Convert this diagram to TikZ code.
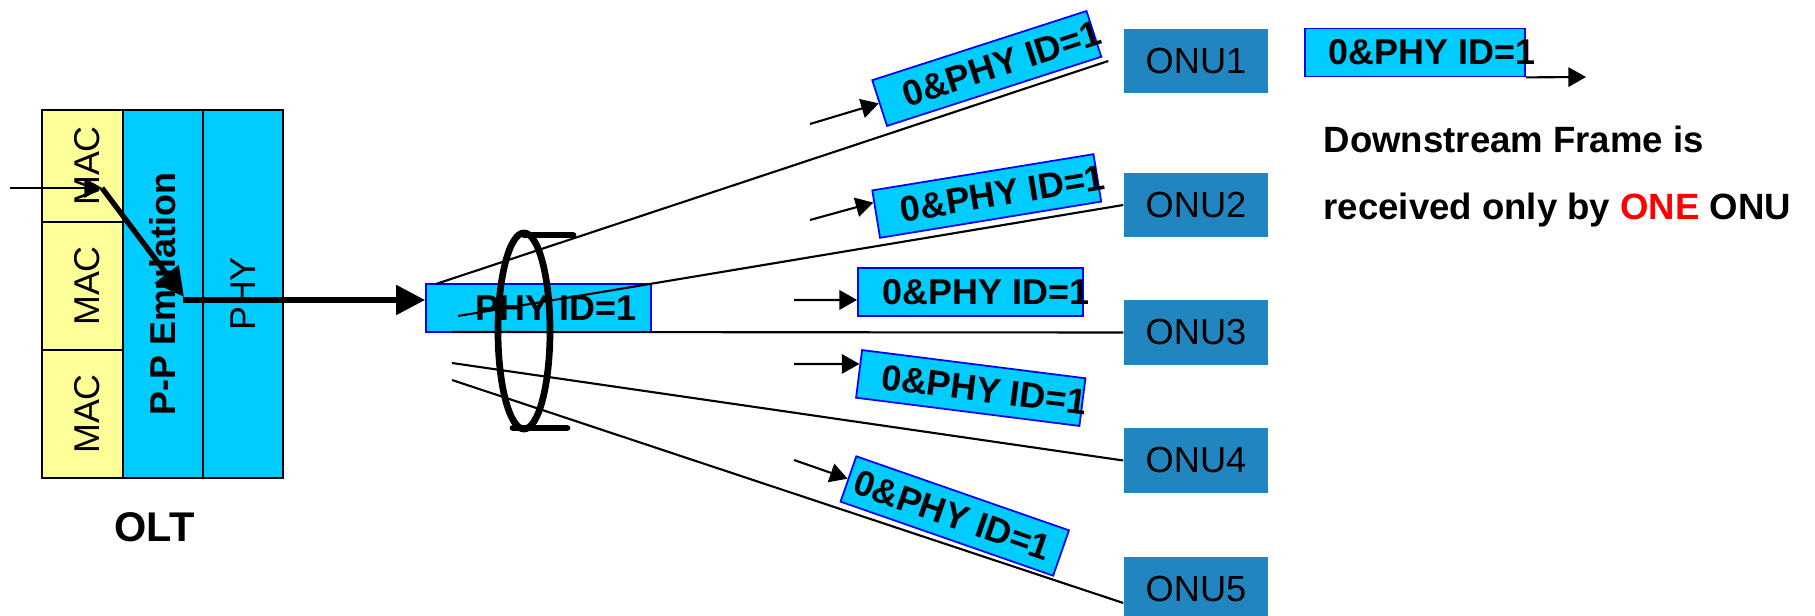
\documentclass[tikz,border=0pt]{standalone}
\usepackage{fontspec}
\setmainfont{Liberation Sans}
\usetikzlibrary{arrows.meta,calc}
\definecolor{macyellow}{HTML}{FFFF99}
\definecolor{phycyan}{HTML}{00CCFF}
\definecolor{onublue}{HTML}{2185C0}
\tikzset{
    cell/.style =   {rectangle,
                    draw=black,
                    line width=0.6pt,
                    inner sep=0pt,
                    rotate=90,
                    font=\fontsize{10.2}{12}\selectfont},
    mac/.style =    {cell,
                    fill=macyellow,
                    text height=9.8pt,
                    text depth=0pt,
                    minimum height=0.81cm},
    tag/.style =    {rectangle,
                    fill=phycyan,
                    draw=blue,
                    line width=0.5pt,
                    inner sep=0pt,
                    minimum height=0.48cm,
                    font=\fontsize{10.2}{12}\selectfont\bfseries},
    onu/.style =    {rectangle,
                    fill=onublue,
                    text=black,
                    inner sep=0pt,
                    minimum width=1.44cm,
                    minimum height=0.64cm,
                    font=\fontsize{10.3}{12}\selectfont},
    note/.style =   {anchor=base west,
                    inner sep=0pt,
                    font=\fontsize{10.4}{12}\selectfont\bfseries},
    -,
    link/.style =   {draw=black, line width=0.6pt},
    ptr/.style =    {-{Triangle[length=5pt,width=5.5pt]}, line width=0.6pt},
    fat/.style =    {-{Triangle[length=8.2pt,width=8.2pt]}, line width=1.5pt},
    lens/.style =   {line width=1.9pt, line cap=round}}
% box of given width, text pushed in from the left
\newcommand{\tagtext}[3]{\makebox[#1][l]{\hspace*{#2}#3}}

\begin{document}
\begin{tikzpicture}[x=0.01cm, y=-0.01cm]
    \useasboundingbox (0,0) rectangle (1815,616);
    % OLT stack
    \node[mac, minimum width=1.12cm] (mac1) at (82.5,166) {MAC};
    \node[mac, minimum width=1.28cm] (mac2) at (82.5,286) {MAC};
    \node[mac, minimum width=1.28cm] (mac3) at (82.5,414) {MAC};
    \node[cell, fill=phycyan, minimum width=3.68cm, minimum height=0.80cm,
          font=\fontsize{10.2}{12}\selectfont\bfseries] (ppe) at (163,294) {P-P Emulation};
    \node[cell, fill=phycyan, minimum width=3.68cm, minimum height=0.80cm] (phy) at (243,294) {PHY};
    \node[font=\fontsize{11.8}{14}\selectfont\bfseries] (olt) at (154.5,527) {OLT};

    % frame leaving the OLT
    \node[tag] (frame) at (538.5,308) {\tagtext{2.25cm}{0.5cm}{PHY ID=1}};
    \coordinate (feed)  at (10,188);
    \coordinate (macin) at (102,188);
    \coordinate (ppein) at (184,297);
    \coordinate (fwd)   at (183,300);
    \draw[ptr] (feed) -- (macin);
    \draw[fat] (macin) -- (ppein);
    \draw[fat] (fwd) -- (fwd -| frame.west);

    % ONUs and fibres
    \node[onu] (onu1) at (1196,61)    {ONU1};
    \node[onu] (onu2) at (1196,205)   {ONU2};
    \node[onu] (onu3) at (1196,332.5) {ONU3};
    \node[onu] (onu4) at (1196,460.5) {ONU4};
    \node[onu] (onu5) at (1196,589)   {ONU5};
    \coordinate (p1) at (436,284);
    \coordinate (p2) at (458,316);
    \coordinate (p3) at (452,332);
    \coordinate (p4) at (452,363);
    \coordinate (p5) at (452,380);
    \path [link]    (p1) edge ([xshift=-0.15cm]onu1.west)
                    (p2) edge (onu2.west)
                    (p3) edge (onu3.west)
                    (p4) edge (onu4.west)
                    (p5) edge ([yshift=-0.14cm]onu5.west);

    % splitter
    \draw[lens] (524,331) ellipse [x radius=0.26cm, y radius=0.98cm];
    \draw[lens] (524,235) -- (573,235);
    \draw[lens] (513,428) -- (567,428);

    % copies of the frame on each fibre
    \node[tag, rotate=17.9]  (t1) at (986.75,68.5) {\tagtext{2.25cm}{0.25cm}{0\&PHY ID=1}};
    \node[tag, rotate=9.3]   (t2) at (986.75,196)  {\tagtext{2.24cm}{0.25cm}{0\&PHY ID=1}};
    \node[tag]               (t3) at (970.5,292)   {\tagtext{2.25cm}{0.25cm}{0\&PHY ID=1}};
    \node[tag, rotate=-7.2]  (t4) at (970.75,388)  {\tagtext{2.25cm}{0.23cm}{0\&PHY ID=1}};
    \node[tag, rotate=-19.2] (t5) at (954.75,516)  {\tagtext{2.25cm}{0.07cm}{0\&PHY ID=1}};
    \coordinate (s1) at (810,124);
    \coordinate (s2) at (810,220);
    \coordinate (s3) at (794,300);
    \coordinate (s4) at (794,364);
    \coordinate (s5) at (794,460);
    \draw[ptr] (s1) -- (t1.west);
    \draw[ptr] (s2) -- (t2.174);
    \draw[ptr] (s3) -- (t3.184);
    \draw[ptr] (s4) -- (t4.175);
    \draw[ptr] (s5) -- (t5.west);

    % legend
    \node[tag] (tr) at (1415,52.5) {\tagtext{2.20cm}{0.24cm}{0\&PHY ID=1}};
    \coordinate (out) at (1586,77);
    \draw[ptr] (tr.south east) -- (out);
    \node[note] (note1) at (1323,153) {Downstream Frame is};
    \node[note] (note2) at (1323,220) {received only by \textcolor{red}{ONE} ONU};
\end{tikzpicture}
\end{document}
